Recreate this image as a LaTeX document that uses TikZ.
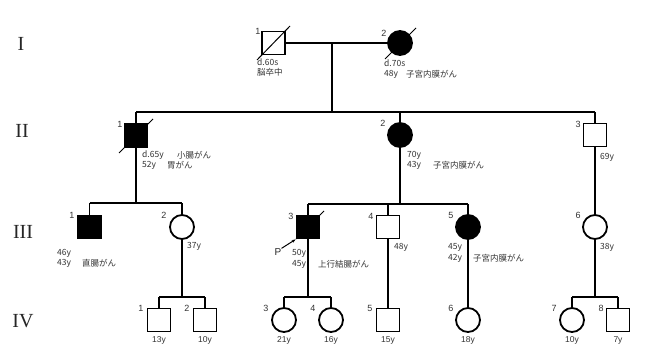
\documentclass[tikz,border=0pt]{standalone}
\usepackage{fontspec}
\setmainfont{Liberation Sans}
\newfontfamily\jp{Noto Sans CJK JP}
\newfontfamily\romanfont{Liberation Serif}
\usetikzlibrary{arrows.meta}
\begin{document}
\begin{tikzpicture}[x=1pt,y=-1pt,
  male/.style={draw, rectangle, minimum size=23pt, inner sep=0pt, line width=1.8pt},
  fem/.style={draw, circle, minimum size=24pt, inner sep=0pt, line width=1.8pt},
  aff/.style={fill=black},
  ln/.style={line width=1.8pt},
  slash/.style={line width=1pt},
  num/.style={font=\fontsize{9}{10}\selectfont, inner sep=0pt, text=black!80},
  txt/.style={font=\jp\fontsize{8.5}{9}\selectfont, anchor=west, inner sep=0pt, text=black!80},
  age/.style={font=\fontsize{8.5}{9}\selectfont, inner sep=0pt, text=black!80},
  gen/.style={font=\romanfont\fontsize{20}{22}\selectfont, inner sep=0pt, text=black!85}]
\useasboundingbox (0,0) rectangle (649,353);
% generation labels
\node[gen] (gI) at (21,44) {I};
\node[gen] (gII) at (22,131) {II};
\node[gen] (gIII) at (23,232) {III};
\node[gen] (gIV) at (23,321) {IV};
% Generation I
\node[male] (I1) at (273.5,43) {};
\node[fem,aff] (I2) at (400,43) {};
\draw[ln] (I1.east) -- (I2.west);
\coordinate (cI) at (332,43);
\coordinate (sII) at (332,112);
\draw[ln] (cI) -- (sII);
\coordinate (tI1a) at (257,60); \coordinate (tI1b) at (290,26);
\draw[slash] (tI1a) -- (tI1b);
\coordinate (tI2a) at (385,59); \coordinate (tI2b) at (416,28);
\draw[slash] (tI2a) -- (tI2b);
\node[num] (nI1) at (258,31) {1};
\node[num] (nI2) at (384,33) {2};
\node[txt] (xI1a) at (257,62) {d.60s};
\node[txt] (xI1b) at (257,72) {脳卒中};
\node[txt] (xI2a) at (384,63) {d.70s};
\node[txt] (xI2b) at (384,74) {48y};
\node[txt] (xI2c) at (406,74) {子宮内膜がん};
% Generation II
\node[male,aff] (II1) at (136,135.5) {};
\node[fem,aff] (II2) at (400,135) {};
\node[male] (II3) at (595,135) {};
\coordinate (sIIL) at (136,112);
\coordinate (sIIR) at (595,112);
\coordinate (sIIM) at (400,112);
\draw[ln] (sIIL) -- (sIIR);
\draw[ln] (sIIL) -- (II1.north);
\draw[ln] (sIIM) -- (II2.north);
\draw[ln] (sIIR) -- (II3.north);
\coordinate (tII1a) at (119,153); \coordinate (tII1b) at (153,119);
\draw[slash] (tII1a) -- (tII1b);
\node[num] (nII1) at (120,124) {1};
\node[num] (nII2) at (383,123) {2};
\node[num] (nII3) at (578,124) {3};
\node[txt] (xII1a) at (142,155) {d.65y};
\node[txt] (xII1b) at (177,155) {小腸がん};
\node[txt] (xII1c) at (142,165) {52y};
\node[txt] (xII1d) at (167,165) {胃がん};
\node[txt] (xII2a) at (407,155) {70y};
\node[txt] (xII2b) at (407,165) {43y};
\node[txt] (xII2c) at (433,165) {子宮内膜がん};
\node[txt] (xII3a) at (600,157) {69y};
% Generation III
\node[male,aff] (III1) at (89.5,227) {};
\node[fem] (III2) at (182,227) {};
\node[male,aff] (III3) at (308,227) {};
\node[male] (III4) at (388,227) {};
\node[fem,aff] (III5) at (468,227) {};
\node[fem] (III6) at (595,227) {};
\coordinate (sIIIa) at (136,203);
\coordinate (sIIIaL) at (89.5,203);
\coordinate (sIIIaR) at (182,203);
\draw[ln] (II1.south) -- (sIIIa);
\draw[ln] (sIIIaL) -- (sIIIaR);
\draw[ln] (sIIIaL) -- (III1.north);
\draw[ln] (sIIIaR) -- (III2.north);
\coordinate (sIIIb) at (400,204);
\coordinate (sIIIbL) at (308,204);
\coordinate (sIIIbM) at (388,204);
\coordinate (sIIIbR) at (468,204);
\draw[ln] (II2.south) -- (sIIIb);
\draw[ln] (sIIIbL) -- (sIIIbR);
\draw[ln] (sIIIbL) -- (III3.north);
\draw[ln] (sIIIbM) -- (III4.north);
\draw[ln] (sIIIbR) -- (III5.north);
\draw[ln] (II3.south) -- (III6.north);
\coordinate (tIII3a) at (296,239); \coordinate (tIII3b) at (324,211);
\draw[slash] (tIII3a) -- (tIII3b);
\node[num] (nIII1) at (72,215) {1};
\node[num] (nIII2) at (164,215) {2};
\node[num] (nIII3) at (291,216) {3};
\node[num] (nIII4) at (371,216) {4};
\node[num] (nIII5) at (451,215) {5};
\node[num] (nIII6) at (578,215) {6};
\node[txt] (xIII1a) at (57,253) {46y};
\node[txt] (xIII1b) at (57,263) {43y};
\node[txt] (xIII1c) at (82,263) {直腸がん};
\node[txt] (xIII2a) at (187,246) {37y};
\node[txt] (xIII3a) at (292,253) {50y};
\node[txt] (xIII3b) at (292,264) {45y};
\node[txt] (xIII3c) at (318,264) {上行結腸がん};
\node[txt] (xIII4a) at (394,247) {48y};
\node[txt] (xIII5a) at (448,247) {45y};
\node[txt] (xIII5b) at (448,258) {42y};
\node[txt] (xIII5c) at (473,258) {子宮内膜がん};
\node[txt] (xIII6a) at (600,247) {38y};
\node[font=\fontsize{10}{11}\selectfont, inner sep=0pt, text=black!85] (P) at (278,252) {P};
\draw[-{Stealth[length=4pt]}, line width=1pt] (P.north east) -- (III3.south west);
% Generation IV
\node[male] (IV1) at (159,320) {};
\node[male] (IV2) at (205,320) {};
\node[fem] (IV3) at (284,320) {};
\node[fem] (IV4) at (331,320) {};
\node[male] (IV5) at (388,320) {};
\node[fem] (IV6) at (468,320) {};
\node[fem] (IV7) at (572,320) {};
\node[male] (IV8) at (618,320) {};
\coordinate (sIVa) at (182,297);
\coordinate (sIVaL) at (159,297);
\coordinate (sIVaR) at (205,297);
\draw[ln] (III2.south) -- (sIVa);
\draw[ln] (sIVaL) -- (sIVaR);
\draw[ln] (sIVaL) -- (IV1.north);
\draw[ln] (sIVaR) -- (IV2.north);
\coordinate (sIVb) at (308,297);
\coordinate (sIVbL) at (284,297);
\coordinate (sIVbR) at (331,297);
\draw[ln] (III3.south) -- (sIVb);
\draw[ln] (sIVbL) -- (sIVbR);
\draw[ln] (sIVbL) -- (IV3.north);
\draw[ln] (sIVbR) -- (IV4.north);
\draw[ln] (III4.south) -- (IV5.north);
\draw[ln] (III5.south) -- (IV6.north);
\coordinate (sIVc) at (595,297);
\coordinate (sIVcL) at (572,297);
\coordinate (sIVcR) at (618,297);
\draw[ln] (III6.south) -- (sIVc);
\draw[ln] (sIVcL) -- (sIVcR);
\draw[ln] (sIVcL) -- (IV7.north);
\draw[ln] (sIVcR) -- (IV8.north);
\node[num] (nIV1) at (141,308) {1};
\node[num] (nIV2) at (187,308) {2};
\node[num] (nIV3) at (266,308) {3};
\node[num] (nIV4) at (313,308) {4};
\node[num] (nIV5) at (370,308) {5};
\node[num] (nIV6) at (451,308) {6};
\node[num] (nIV7) at (554,308) {7};
\node[num] (nIV8) at (601,308) {8};
\node[age] (aIV1) at (159,340) {13y};
\node[age] (aIV2) at (205,340) {10y};
\node[age] (aIV3) at (284,340) {21y};
\node[age] (aIV4) at (331,340) {16y};
\node[age] (aIV5) at (388,340) {15y};
\node[age] (aIV6) at (468,340) {18y};
\node[age] (aIV7) at (572,340) {10y};
\node[age] (aIV8) at (618,340) {7y};
\end{tikzpicture}
\end{document}
